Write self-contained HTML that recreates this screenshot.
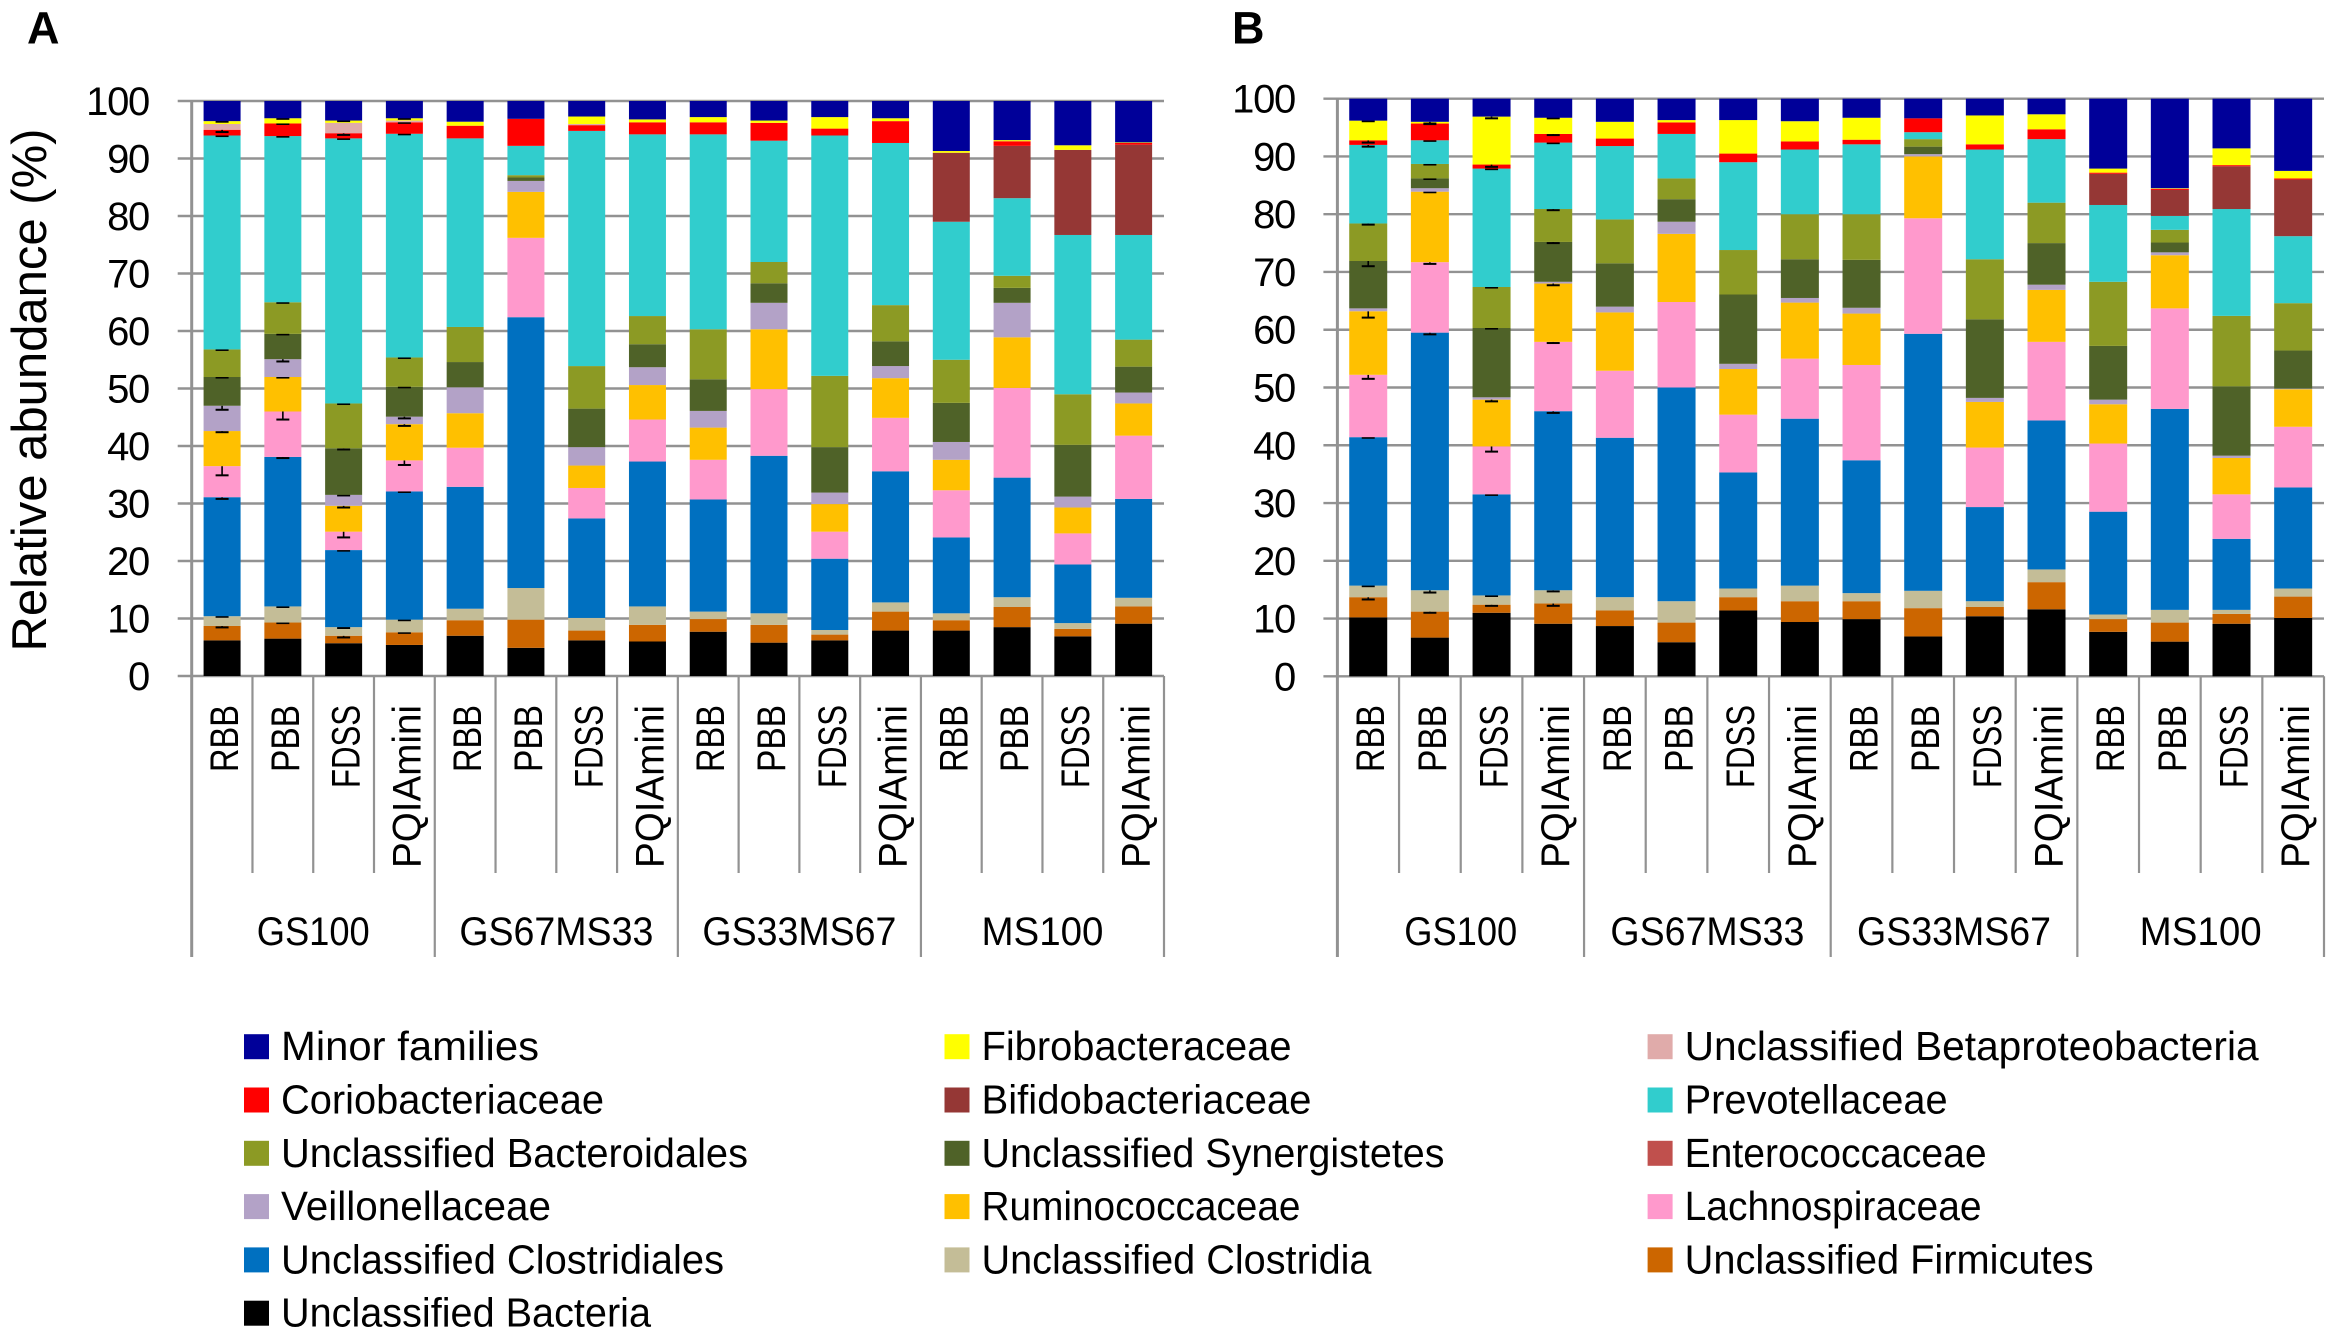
<!DOCTYPE html>
<html lang="en">
<head>
<meta charset="utf-8">
<title>Relative abundance of bacterial families</title>
<style>
html,body{margin:0;padding:0;background:#fff;width:2330px;height:1337px;overflow:hidden}
svg{display:block;font-family:"Liberation Sans",sans-serif;fill:#000}
</style>
</head>
<body>
<svg id="figure" width="2330" height="1337" viewBox="0 0 2330 1337" xmlns="http://www.w3.org/2000/svg">
  <text x="27" y="43.5" font-size="45" font-weight="700">A</text>
  <text x="1232" y="43.5" font-size="45" font-weight="700">B</text>
  <text transform="translate(46 390) rotate(-90)" text-anchor="middle" font-size="49">Relative abundance (%)</text>
</svg>
<script>
const categories = ["RBB","PBB","FDSS","PQIAmini"];
const groups = ["GS100","GS67MS33","GS33MS67","MS100"];
const yTicks = [0,10,20,30,40,50,60,70,80,90,100];

const seriesNames = ["Unclassified Bacteria","Unclassified Firmicutes","Unclassified Clostridia","Unclassified Clostridiales","Lachnospiraceae","Enterococcaceae","Ruminococcaceae","Veillonellaceae","Unclassified Synergistetes","Unclassified Bacteroidales","Prevotellaceae","Bifidobacteriaceae","Coriobacteriaceae","Unclassified Betaproteobacteria","Fibrobacteraceae","Minor families"];

/* Panel A: percentage per bar, bottom to top */
const aBacteria = [6.2,6.5,5.7,5.4,7.0,4.9,6.2,6.0,7.7,5.8,6.2,7.9,7.9,8.5,6.9,9.1];
const aFirmicutes = [2.5,2.8,1.3,2.2,2.7,4.9,1.7,2.9,2.2,3.1,1.0,3.3,1.8,3.5,1.3,3.0];
const aClostridia = [1.7,2.8,1.5,2.2,2.0,5.5,2.2,3.2,1.3,2.0,0.8,1.6,1.2,1.7,1.0,1.5];
const aClostridiales = [20.7,26.0,13.4,22.3,21.2,47.1,17.3,25.2,19.5,27.4,12.4,22.8,13.2,20.8,10.2,17.2];
const aLachno = [5.4,7.9,3.2,5.4,6.8,13.8,5.3,7.3,6.9,11.6,4.7,9.3,8.2,15.6,5.4,11.0];
const aEntero = [0,0,0,0,0,0,0,0,0,0,0,0,0,0,0,0];
const aRumino = [6.1,6.0,4.5,6.3,6.0,8.0,3.9,6.0,5.6,10.4,4.8,6.9,5.3,8.8,4.5,5.6];
const aVeillon = [4.4,3.1,1.9,1.3,4.5,1.9,3.2,3.1,2.9,4.6,2.0,2.1,3.1,6.0,1.9,1.9];
const aSynerg = [5.0,4.4,8.1,5.2,4.4,0.6,6.7,4.0,5.5,3.4,7.9,4.3,6.8,2.6,9.0,4.5];
const aBacteroidales = [4.8,5.5,7.8,5.1,6.1,0.4,7.4,4.9,8.7,3.7,12.4,6.3,7.5,2.1,8.8,4.7];
const aPrevotella = [37.2,28.9,46.1,38.9,32.8,5.1,40.9,31.6,33.9,21.1,41.8,28.2,24.0,13.5,27.7,18.2];
const aBifido = [0,0,0,0,0,0,0,0,0,0,0,0,12.0,9.1,14.8,15.7];
const aCorio = [1.0,2.2,0.9,2.0,2.2,4.7,1.0,2.1,2.1,3.1,1.2,3.8,0,0.8,0,0.3];
const aBeta = [1.0,0,1.8,0.3,0,0,0.2,0,0,0,0,0,0,0,0,0];
const aFibro = [0.5,0.9,0.4,0.4,0.7,0,1.3,0.5,0.9,0.4,2.0,0.5,0.3,0.2,0.8,0.1];
const aMinor = [3.5,3.0,3.4,3.0,3.6,3.1,2.7,3.2,2.8,3.4,2.8,3.0,8.7,6.8,7.7,7.2];

/* Panel B */
const bBacteria = [10.2,6.7,11.0,9.1,8.7,5.9,11.4,9.4,9.9,6.9,10.4,11.6,7.7,6.0,9.1,10.1];
const bFirmicutes = [3.5,4.5,1.4,3.5,2.7,3.4,2.3,3.6,3.1,4.9,1.6,4.7,2.2,3.3,1.7,3.7];
const bClostridia = [2.0,3.7,1.6,2.3,2.3,3.7,1.5,2.7,1.4,3.0,1.0,2.2,0.8,2.2,0.7,1.4];
const bClostridiales = [25.7,44.6,17.5,31.0,27.6,37.0,20.1,28.9,23.0,44.5,16.3,25.8,17.8,34.8,12.3,17.5];
const bLachno = [10.8,12.2,8.3,12.0,11.6,14.8,10.0,10.4,16.5,20.0,10.3,13.6,11.8,17.4,7.7,10.5];
const bEntero = [0,0,0,0,0,0,0,0,0,0,0,0,0,0,0,0];
const bRumino = [11.0,12.2,8.1,10.1,10.1,11.8,7.9,9.7,8.9,10.7,7.9,9.0,6.8,9.2,6.3,6.5];
const bVeillon = [0.5,0.6,0.4,0.3,1.0,2.1,0.9,0.8,1.0,0.4,0.7,0.9,0.8,0.5,0.4,0.1];
const bSynerg = [8.2,1.7,12.0,6.9,7.5,3.9,12.0,6.7,8.3,1.3,13.6,7.2,9.3,1.7,12.0,6.6];
const bBacteroidales = [6.5,2.5,7.1,5.7,7.6,3.6,7.7,7.8,7.9,1.3,10.4,7.0,11.1,2.2,12.2,8.2];
const bPrevotella = [13.6,4.1,20.5,11.5,12.7,7.7,15.2,11.2,12.1,1.2,19.0,11.0,13.3,2.4,18.5,11.6];
const bBifido = [0,0,0,0,0,0,0,0,0,0,0,0,5.4,4.5,7.4,9.8];
const bCorio = [0.8,2.9,0.7,1.5,1.3,2.0,1.5,1.4,0.8,2.4,0.9,1.7,0.2,0.2,0.2,0.2];
const bBeta = [0,0,0,0,0,0,0,0,0,0,0,0,0,0,0,0];
const bFibro = [3.4,0.3,8.3,2.8,2.9,0.4,5.8,3.5,3.8,0,5.0,2.6,0.7,0.1,2.9,1.3];
const bMinor = [3.8,4.0,3.1,3.3,4.0,3.7,3.7,3.9,3.3,3.4,2.9,2.7,12.1,15.5,8.6,12.5];

/* Error magnitudes (first four bars of each panel) */
const aErrFirmicutes = [0.25,0.1,0.3,0.1];
const aErrClostridia = [0.1,0.1,0.15,0.1];
const aErrClostridiales = [0.3,0.2,0.1,0.1];
const aErrLachno = [1.6,1.4,1.0,0.8];
const aErrRumino = [0.2,0.1,0.3,0.3];
const aErrVeillon = [0.7,0.4,0.1,0.3];
const aErrSynerg = [0.1,0.1,0.2,0.1];
const aErrBacteroidales = [0.1,0.1,0.1,0.1];
const aErrPrevotella = [0.1,0.1,0.1,0.1];
const aErrCorio = [0.4,0.1,0.3,0.1];
const aErrFibro = [0.1,0.1,0.1,0.1];
const bErrFirmicutes = [0.4,0.2,0.2,0.4];
const bErrClostridia = [0.1,0.4,0.1,0.2];
const bErrClostridiales = [0.1,0.3,0.1,0.3];
const bErrLachno = [0.7,0.3,0.9,0.2];
const bErrRumino = [1.1,0.1,0.3,0.3];
const bErrSynerg = [0.9,0.1,0.1,0.2];
const bErrBacteroidales = [0.2,0.1,0.1,0.2];
const bErrPrevotella = [0.3,0.1,0.1,0.1];
const bErrCorio = [0.4,0.1,0.4,0.2];
const bErrFibro = [0.1,0.3,0.3,0.1];

const legendRows = [
  ["Minor families","Fibrobacteraceae","Unclassified Betaproteobacteria"],
  ["Coriobacteriaceae","Bifidobacteriaceae","Prevotellaceae"],
  ["Unclassified Bacteroidales","Unclassified Synergistetes","Enterococcaceae"],
  ["Veillonellaceae","Ruminococcaceae","Lachnospiraceae"],
  ["Unclassified Clostridiales","Unclassified Clostridia","Unclassified Firmicutes"],
  ["Unclassified Bacteria"]
];

/* Styling (not data) */
const seriesColors = {
  "Unclassified Bacteria":"#000000","Unclassified Firmicutes":"#cc6600","Unclassified Clostridia":"#c4bd97",
  "Unclassified Clostridiales":"#0070c0","Lachnospiraceae":"#ff99cc","Enterococcaceae":"#c0504d",
  "Ruminococcaceae":"#ffc000","Veillonellaceae":"#b3a2c7","Unclassified Synergistetes":"#4f6228",
  "Unclassified Bacteroidales":"#8c9a24","Prevotellaceae":"#31cdcd","Bifidobacteriaceae":"#953735",
  "Coriobacteriaceae":"#ff0000","Unclassified Betaproteobacteria":"#e0abaa","Fibrobacteraceae":"#ffff00",
  "Minor families":"#000099"
};
const labelLengths = {RBB:67,PBB:67,FDSS:83,PQIAmini:163,GS100:113,GS67MS33:194,GS33MS67:194,MS100:122};
const legendLengths = {
  "Minor families":258,"Fibrobacteraceae":310,"Unclassified Betaproteobacteria":574,
  "Coriobacteriaceae":323,"Bifidobacteriaceae":330,"Prevotellaceae":263,
  "Unclassified Bacteroidales":467,"Unclassified Synergistetes":463,"Enterococcaceae":302,
  "Veillonellaceae":270,"Ruminococcaceae":319,"Lachnospiraceae":297,
  "Unclassified Clostridiales":443,"Unclassified Clostridia":390,"Unclassified Firmicutes":409,
  "Unclassified Bacteria":370
};
const LINE = "#929292";

const svg = document.getElementById("figure");
const NS = "http://www.w3.org/2000/svg";
function mk(tag, attrs, parent) {
  const el = document.createElementNS(NS, tag);
  for (const k in attrs) el.setAttribute(k, attrs[k]);
  (parent || svg).appendChild(el);
  return el;
}
function slug(s) { return s.toLowerCase().replace(/[^a-z0-9]+/g, "-"); }

function drawPanel(p) {
  const xStep = (p.x1 - p.x0) / 16;
  const xScale = i => p.x0 + xStep * (i + 0.5);
  const yScale = v => p.yBottom - (p.yBottom - p.yTop) * v / 100;

  const root = mk("g", {});
  
  

  yTicks.forEach(t => {
    const y = yScale(t);
    const line = mk("line", {x1:p.x0 - 14, x2:p.x1, y1:y, y2:y, stroke:LINE, "stroke-width":2.4}, root);
    
    
    const label = mk("text", {x:p.tickX, y:y + 14, "text-anchor":"end", "font-size":40, "letter-spacing":"-1.3"}, root);
    label.textContent = t;
    
    
  });

  for (let i = 0; i <= 16; i++) {
    const x = p.x0 + xStep * i;
    const major = i % 4 === 0;
    const sep = mk("line", {x1:x, x2:x, y1:(i === 0 ? p.yTop : p.yBottom), y2:(major ? 957 : 873), stroke:LINE, "stroke-width":(i === 0 ? 3 : 2.2)}, root);
    
    
  }

  for (let i = 0; i < 16; i++) {
    const cat = categories[i % 4];
    const cx = xScale(i);
    let cum = 0;
    p.series.forEach((vals, s) => {
      const v = vals[i];
      const name = seriesNames[s];
      if (v > 0) {
        const yTop = yScale(cum + v);
        const bar = mk("rect", {x:cx - p.barW / 2, y:yTop, width:p.barW, height:yScale(cum) - yTop, fill:seriesColors[name]}, root);
        
        
      }
      cum += v;
      const errs = p.errors[s];
      if (errs && i < errs.length && errs[i] > 0) {
        const yA = yScale(cum);
        const yB = yScale(cum - errs[i]);
        const stem = mk("line", {x1:cx, x2:cx, y1:yA, y2:yB, stroke:"#000", "stroke-width":1.6}, root);
        
        
        const cap = mk("line", {x1:cx - 6.5, x2:cx + 6.5, y1:yB, y2:yB, stroke:"#000", "stroke-width":2}, root);
        
        
      }
    });
    const tick = mk("text", {transform:"translate(" + (cx + 16) + " 705) rotate(-90)", "text-anchor":"end", "font-size":40, textLength:labelLengths[cat], lengthAdjust:"spacingAndGlyphs"}, root);
    tick.textContent = cat;
    
    
  }

  groups.forEach((g, j) => {
    const cx = p.x0 + xStep * (j * 4 + 2);
    const t = mk("text", {x:cx, y:945, "text-anchor":"middle", "font-size":40, textLength:labelLengths[g], lengthAdjust:"spacingAndGlyphs"}, root);
    t.textContent = g;
    
    
  });
}

drawPanel({
  id:"panel-a", x0:191.7, x1:1164, yTop:101, yBottom:676, tickX:149, barW:37,
  series:[aBacteria,aFirmicutes,aClostridia,aClostridiales,aLachno,aEntero,aRumino,aVeillon,aSynerg,aBacteroidales,aPrevotella,aBifido,aCorio,aBeta,aFibro,aMinor],
  errors:[null,aErrFirmicutes,aErrClostridia,aErrClostridiales,aErrLachno,null,aErrRumino,aErrVeillon,aErrSynerg,aErrBacteroidales,aErrPrevotella,null,aErrCorio,null,aErrFibro,null]
});
drawPanel({
  id:"panel-b", x0:1337.4, x1:2324, yTop:98.7, yBottom:676.3, tickX:1295, barW:38,
  series:[bBacteria,bFirmicutes,bClostridia,bClostridiales,bLachno,bEntero,bRumino,bVeillon,bSynerg,bBacteroidales,bPrevotella,bBifido,bCorio,bBeta,bFibro,bMinor],
  errors:[null,bErrFirmicutes,bErrClostridia,bErrClostridiales,bErrLachno,null,bErrRumino,null,bErrSynerg,bErrBacteroidales,bErrPrevotella,null,bErrCorio,null,bErrFibro,null]
});

const legend = mk("g", {});


const legendX = [244, 944.5, 1647.6];
legendRows.forEach((row, r) => {
  const cy = 1046.7 + r * 53.3;
  row.forEach((name, c) => {
    const swatch = mk("rect", {x:legendX[c], y:cy - 12.5, width:25, height:25, fill:seriesColors[name]}, legend);
    
    
    const label = mk("text", {x:legendX[c] + 37, y:cy + 13.5, "font-size":41, textLength:legendLengths[name], lengthAdjust:"spacingAndGlyphs"}, legend);
    label.textContent = name;
    
    
  });
});
</script>
</body>
</html>
